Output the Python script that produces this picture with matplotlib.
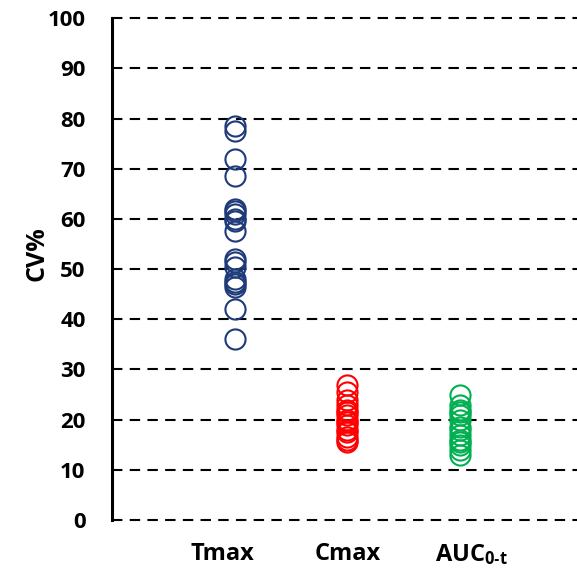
import matplotlib
matplotlib.use("Agg")
import matplotlib.pyplot as plt
from matplotlib.transforms import ScaledTranslation

plt.rcParams['font.family'] = ['Open Sans', 'DejaVu Sans']
plt.rcParams['mathtext.fontset'] = 'custom'
plt.rcParams['mathtext.rm'] = 'Open Sans:bold'
plt.rcParams['mathtext.bf'] = 'Open Sans:bold'
plt.rcParams['mathtext.it'] = 'Open Sans:bold'

# data
categories = ['Tmax', 'Cmax', 'AUC$_{\\mathbf{0\u2010t}}$']
tmax_cv = [78.5, 77.5, 72, 68.5, 62, 61.5, 61, 60, 59.5, 57.5,
           52, 51.5, 50.5, 48, 47.5, 47, 46.5, 42, 36]
cmax_cv = [27, 25.5, 24, 23, 22, 21.5, 21, 20, 19.5, 19, 18, 17.5, 16.5, 16, 15.5]
auc_cv = [25, 23, 22, 21.5, 21, 20, 18.5, 18, 17, 16, 15.5, 15, 14, 13]
colors = ['#1f3a78', '#ff0000', '#00b050']

fig = plt.figure(figsize=(5.77, 5.68), dpi=100)
ax = fig.add_axes([0.194, 0.0845, 0.806, 0.8835])

for i, vals in enumerate([tmax_cv, cmax_cv, auc_cv]):
    ax.plot([i + 1] * len(vals), vals, linestyle='none', marker='o',
            markersize=14.5, markerfacecolor='none', markeredgecolor=colors[i],
            markeredgewidth=1.5, clip_on=False)

ax.set_ylim(0, 100)
ax.set_xlim(-0.09, 4.04)
ax.set_yticks(range(0, 101, 10))
ax.set_xticks([1, 2, 3])
ax.set_xticklabels(categories)

for y in range(0, 101, 10):
    ax.axhline(y, color='black', linewidth=1.5, linestyle=(0, (5, 3.5)), zorder=0, clip_on=False)

for s in ['top', 'right', 'bottom']:
    ax.spines[s].set_visible(False)
ax.spines['left'].set_linewidth(2.2)

ax.tick_params(axis='y', length=0, pad=19, labelsize=16)
ax.tick_params(axis='x', length=0, pad=16, labelsize=17)
for lab in ax.get_yticklabels() + ax.get_xticklabels():
    lab.set_fontweight('bold')

# labels are not quite centred under their points in the original
shifts = [-12, 0, 12]
for lab, dx in zip(ax.get_xticklabels(), shifts):
    lab.set_transform(lab.get_transform() + ScaledTranslation(dx / 100, 0, fig.dpi_scale_trans))

ax.set_ylabel('CV%', fontsize=18, fontweight='bold', labelpad=4)
ax.yaxis.set_label_coords(-0.135, 0.53)

fig.savefig('out.png', dpi=100)
